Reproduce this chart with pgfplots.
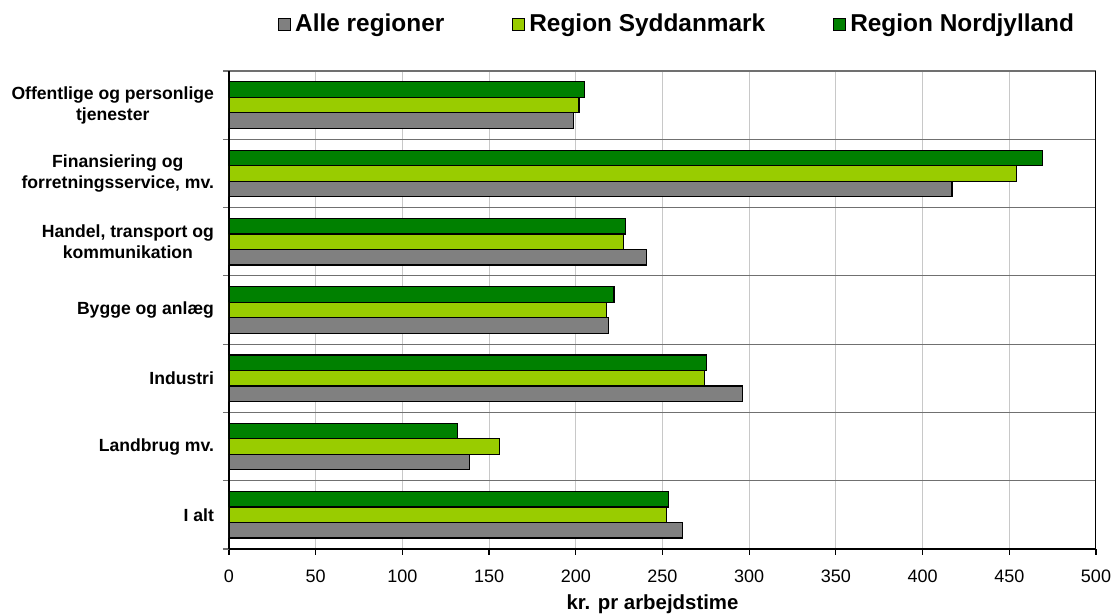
\documentclass[border=0pt]{standalone}
\usepackage{pgfplots}
\pgfplotsset{compat=1.18}
\usepackage{fontspec}
\setmainfont{Liberation Sans}
\definecolor{cgrey}{HTML}{808080}
\definecolor{clight}{HTML}{99CC00}
\definecolor{cdark}{HTML}{008000}
\definecolor{gridlight}{HTML}{C8C8C8}
\definecolor{griddark}{HTML}{707070}
\begin{document}
\begin{tikzpicture}
\begin{axis}[
  name=ax,
  at={(0,0)}, anchor=south west,
  scale only axis,
  width=433.5pt, height=239pt,
  xbar, bar width=7.75pt,
  xmin=0, xmax=500,
  ymin=-0.5, ymax=6.5,
  xtick={0,50,...,500},
  ytick={0,...,6},
  yticklabels={{I alt},{Landbrug mv.},{Industri},{Bygge og anlæg},{Handel, transport og\\kommunikation},{Finansiering og\\forretningsservice, mv.},{Offentlige og personlige\\tjenester}},
  minor ytick={-0.5,0.5,...,6.5},
  axis x line*=bottom, axis y line*=left,
  axis line style={black, line width=0.7pt},
  tick align=outside,
  major tick length=3pt,
  minor tick length=3pt,
  major y tick style={draw=none},
  minor y tick style={draw=griddark, line width=0.6pt},
  major x tick style={black, line width=0.6pt},
  xmajorgrids,
  major grid style={gridlight, line width=0.5pt},
  yminorgrids,
  minor grid style={griddark, line width=0.6pt},
  /pgf/number format/assume math mode=true,
  xticklabel style={font=\fontsize{9}{10}\selectfont, yshift=-4pt},
  yticklabel style={align=center, font=\bfseries\fontsize{8.8}{10.5}\selectfont, xshift=-1pt},
  xlabel={kr. pr arbejdstime},
  xlabel style={font=\bfseries\fontsize{10.2}{11}\selectfont, yshift=1pt, xshift=-5pt},
  legend columns=3,
  legend style={at={(0.518,1.097)}, anchor=center, draw=none, fill=none,
    font=\bfseries\fontsize{12.2}{13}\selectfont,
    /tikz/every even column/.append style={column sep=32pt}},
  legend image code/.code={\draw[#1, draw=black, line width=0.5pt] (0pt,-3pt) rectangle (6pt,3pt);},
]
\addplot[fill=cgrey, draw=black, line width=0.6pt, bar shift=-7.75pt] coordinates {
  (261.5,0) (138.6,1) (296,2) (218.8,3) (240.8,4) (417,5) (198.6,6)};
\addplot[fill=clight, draw=black, line width=0.6pt, bar shift=0pt] coordinates {
  (252.3,0) (156.2,1) (274.2,2) (217.7,3) (227.5,4) (454,5) (201.8,6)};
\addplot[fill=cdark, draw=black, line width=0.6pt, bar shift=7.75pt] coordinates {
  (253.5,0) (131.6,1) (275.4,2) (222,3) (228.6,4) (469,5) (204.8,6)};
\legend{Alle regioner, Region Syddanmark, Region Nordjylland}
\draw[black, line width=0.7pt] (rel axis cs:1,0) -- (rel axis cs:1,1);
\end{axis}
\pgfresetboundingbox
\path[use as bounding box] ([shift={(-114.5pt,-33.5pt)}]ax.south west) rectangle ([shift={(8.5pt,35.5pt)}]ax.north east);
\end{tikzpicture}
\end{document}
